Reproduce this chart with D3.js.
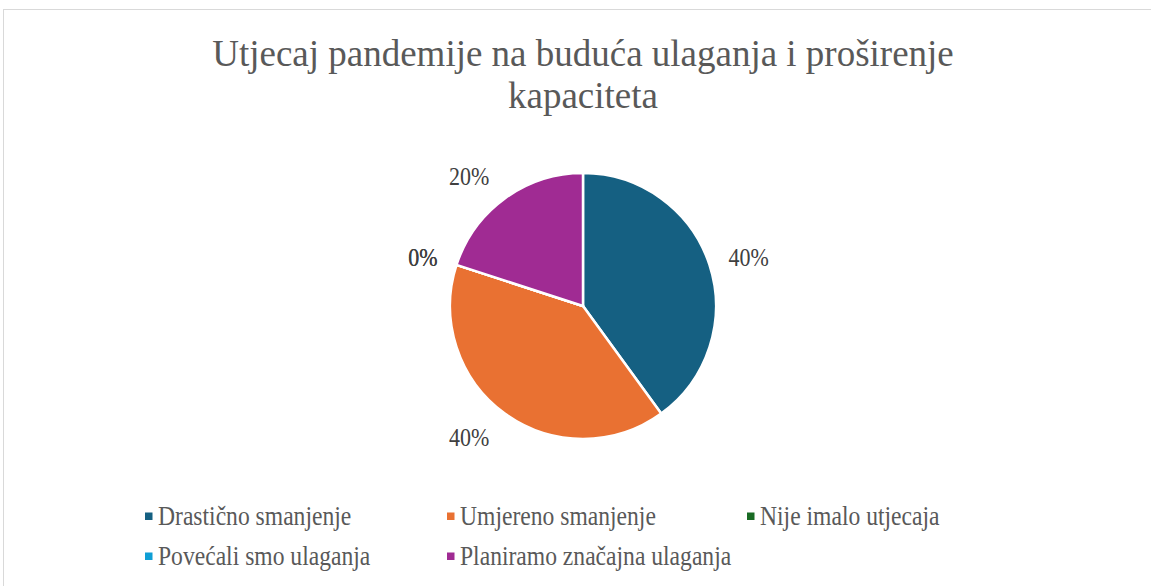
<!DOCTYPE html>
<html>
<head>
<meta charset="utf-8">
<script src="https://cdn.jsdelivr.net/npm/d3@7"></script>
<style>
    body { margin: 0; background: #fff; font-family: 'Liberation Serif', serif; }
    svg { display: block; }
</style>
</head>
<body>
<div id="chart"></div>
<script>
const categories = ["Drastično smanjenje", "Umjereno smanjenje", "Nije imalo utjecaja", "Povećali smo ulaganja", "Planiramo značajna ulaganja"];
const values = [40, 40, 0, 0, 20];
const labels = ["40%", "40%", "0%", "0%", "20%"];
const colors = ["#156082", "#E97132", "#196B24", "#0F9ED5", "#A02B93"];
const titleLines = ["Utjecaj pandemije na buduća ulaganja i proširenje", "kapaciteta"];

const width = 1151, height = 586;
const cx = 583, cy = 306, radius = 133, labelRadius = 151;
const serif = "'Liberation Serif', serif";
const stretch = 1.15; // text in the original looks a bit taller than plain Times

const svg = d3.select("#chart").append("svg")
    .attr("width", width)
    .attr("height", height)
    .style("font-family", serif);

// chart area border
svg.append("rect")
    .attr("x", 3.5).attr("y", 9.5)
    .attr("width", width + 10).attr("height", height + 10)
    .attr("fill", "#fff")
    .attr("stroke", "#d9d9d9");

// title
svg.append("g").selectAll("text")
    .data(titleLines)
    .enter().append("text")
    .attr("transform", (d, i) => `translate(${cx},${66 + i * 42}) scale(1,1.05)`)
    .attr("text-anchor", "middle")
    .style("font-family", serif)
    .style("font-size", "37px")
    .attr("fill", "#595959")
    .text(d => d);

const data = categories.map((c, i) => ({ name: c, value: values[i], label: labels[i], color: colors[i] }));

const pie = d3.pie().value(d => d.value).sort(null);
const arc = d3.arc().innerRadius(0).outerRadius(radius);

const g = svg.append("g").attr("transform", `translate(${cx},${cy})`);
const arcs = pie(data);

g.selectAll("path")
    .data(arcs)
    .enter().append("path")
    .attr("d", arc)
    .attr("fill", d => d.data.color)
    .attr("stroke", "#fff")
    .attr("stroke-width", 2.5)
    .attr("stroke-linejoin", "round");

// data labels just outside the slice, pushed away along the mid angle
g.selectAll("text")
    .data(arcs)
    .enter().append("text")
    .attr("transform", d => {
        const a = (d.startAngle + d.endAngle) / 2;
        const s = Math.sin(a), c = Math.cos(a);
        const x = labelRadius * s + Math.sign(s) * 6 * Math.abs(c);
        const y = -labelRadius * c - c * 10 + 9.5;
        return `translate(${x},${y}) scale(1,${stretch})`;
    })
    .attr("text-anchor", d => Math.sin((d.startAngle + d.endAngle) / 2) >= 0 ? "start" : "end")
    .style("font-family", serif)
    .style("font-size", "22px")
    .attr("fill", "#404040")
    .text(d => d.data.label);

// legend
const legendCols = [145, 447, 747];
const legendRows = [524.5, 564.5];
const legend = svg.append("g").selectAll("g")
    .data(data)
    .enter().append("g")
    .attr("transform", (d, i) => `translate(${legendCols[i % 3]},${legendRows[Math.floor(i / 3)]})`);

legend.append("rect")
    .attr("x", 0).attr("y", -12)
    .attr("width", 7.5).attr("height", 7.5)
    .attr("fill", d => d.color);

legend.append("text")
    .attr("transform", `translate(13,0) scale(1,${stretch})`)
    .style("font-family", serif)
    .style("font-size", "23.6px")
    .attr("fill", "#595959")
    .text(d => d.name);
</script>
</body>
</html>
